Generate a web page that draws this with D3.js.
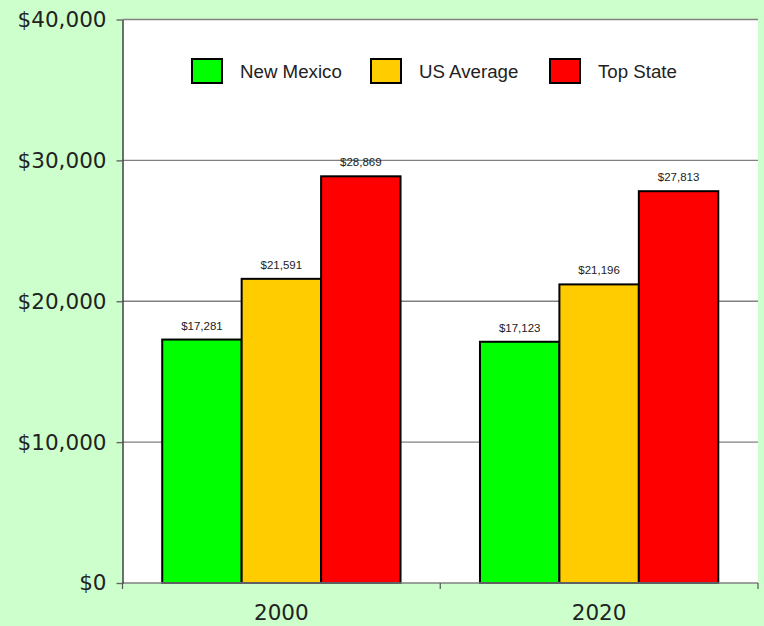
<!DOCTYPE html>
<html>
<head>
<meta charset="utf-8">
<script src="https://cdn.jsdelivr.net/npm/d3@7"></script>
<style>
html,body{margin:0;padding:0;background:#CCFFCC;}
svg{display:block;}
</style>
</head>
<body>
<svg id="chart" width="764" height="626"></svg>
<script>
const categories = ["2000", "2020"];
const seriesNames = ["New Mexico", "US Average", "Top State"];
const newMexico = [17281, 17123];
const usAverage = [21591, 21196];
const topState = [28869, 27813];
const yTicks = [0, 10000, 20000, 30000, 40000];
const colors = ["#00FF00", "#FFCC00", "#FF0000"];

(function () {
const seriesValues = [newMexico, usAverage, topState];
const data = categories.map((c, i) => ({
  cat: c,
  vals: seriesNames.map((s, j) => ({ series: s, idx: j, value: seriesValues[j][i] }))
}));

const svg = d3.select("#chart");
const W = 764, H = 626;
const pLeft = 122.5, pRight = 758, pTop = 19.5, pBottom = 583;

svg.append("rect").attr("x", 0).attr("y", 0).attr("width", W).attr("height", H).attr("fill", "#CCFFCC");
svg.append("rect").attr("x", pLeft).attr("y", pTop).attr("width", pRight - pLeft).attr("height", pBottom - pTop).attr("fill", "#FFFFFF");

const y = d3.scaleLinear().domain([0, 40000]).range([pBottom, pTop]);
const x = d3.scaleBand().domain(categories).range([pLeft, pRight]).padding(0);
const xs = d3.scaleBand().domain(seriesNames).range([0, x.bandwidth()]).paddingInner(0).paddingOuter(0.5);

// gridlines
svg.append("g").selectAll("line").data(yTicks.filter(t => t > 0)).join("line")
  .attr("x1", pLeft).attr("x2", pRight)
  .attr("y1", d => y(d)).attr("y2", d => y(d))
  .attr("stroke", "#808080").attr("stroke-width", 1.4);

// bars
const groups = svg.append("g").selectAll("g").data(data).join("g")
  .attr("transform", d => `translate(${x(d.cat)},0)`);
groups.selectAll("rect").data(d => d.vals).join("rect")
  .attr("x", d => xs(d.series))
  .attr("y", d => y(d.value))
  .attr("width", xs.bandwidth())
  .attr("height", d => pBottom - y(d.value))
  .attr("fill", d => colors[d.idx])
  .attr("stroke", "#000").attr("stroke-width", 2);

groups.selectAll("text").data(d => d.vals).join("text")
  .attr("x", d => xs(d.series) + xs.bandwidth() / 2)
  .attr("y", d => y(d.value) - 10)
  .attr("text-anchor", "middle")
  .attr("font-family", "'Liberation Sans', Arial, sans-serif")
  .attr("font-size", "11.5px")
  .attr("fill", "#222")
  .text(d => "$" + d3.format(",")(d.value));

// x axis
const xAxis = svg.append("g");
xAxis.append("line").attr("x1", pLeft).attr("x2", pRight).attr("y1", pBottom).attr("y2", pBottom)
  .attr("stroke", "#808080").attr("stroke-width", 1.4);
const bounds = categories.map(c => x(c)).concat([x(categories[categories.length - 1]) + x.bandwidth()]);
xAxis.selectAll("line.tk").data(bounds).join("line").attr("class", "tk")
  .attr("x1", d => d).attr("x2", d => d).attr("y1", pBottom).attr("y2", pBottom + 6)
  .attr("stroke", "#555").attr("stroke-width", 1.2);
xAxis.selectAll("text").data(categories).join("text")
  .attr("x", d => x(d) + x.bandwidth() / 2)
  .attr("y", 620)
  .attr("text-anchor", "middle")
  .attr("font-family", "'DejaVu Sans', Verdana, sans-serif")
  .attr("font-size", "21.5px")
  .attr("fill", "#222")
  .text(d => d);

// y axis
const yAxis = d3.axisLeft(y).tickValues(yTicks).tickSize(6).tickSizeOuter(0)
  .tickFormat(d => "$" + d3.format(",")(d));
const gy = svg.append("g").attr("transform", `translate(${pLeft},0)`).call(yAxis);
gy.select(".domain").attr("stroke", "#222").attr("stroke-width", 1.3);
gy.selectAll(".tick line").attr("stroke", "#666").attr("stroke-width", 1.4);
gy.selectAll(".tick text")
  .attr("x", -16)
  .attr("font-family", "'DejaVu Sans', Verdana, sans-serif")
  .attr("font-size", "21.5px")
  .attr("fill", "#222");

// legend
const legendX = [192, 371, 550];
const lg = svg.append("g").selectAll("g").data(seriesNames).join("g")
  .attr("transform", (d, i) => `translate(${legendX[i]},59)`);
lg.append("rect").attr("width", 30).attr("height", 24)
  .attr("fill", (d, i) => colors[i]).attr("stroke", "#000").attr("stroke-width", 2);
lg.append("text").attr("x", 48).attr("y", 19)
  .attr("font-family", "'Liberation Sans', Arial, sans-serif")
  .attr("font-size", "18.7px")
  .attr("fill", "#222")
  .text(d => d);
})();
</script>
</body>
</html>
